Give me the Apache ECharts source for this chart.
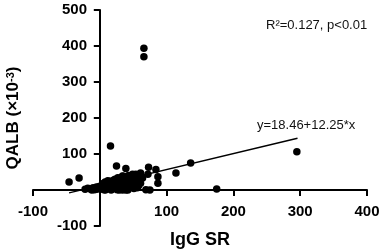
<!DOCTYPE html>
<html>
<head>
<meta charset="utf-8">
<script src="https://cdn.jsdelivr.net/npm/echarts@6/dist/echarts.min.js"></script>
<style>
  html, body { margin: 0; padding: 0; background: #fff; }
  #chart { width: 383px; height: 252px; }
</style>
</head>
<body>
<div id="chart"></div>
<script>
// IgG SR (x) vs QALB x10^-3 (y)
var iggSR = [66, 66, 16, -46, -31, 25, 39, 73, 84, 114, 136, 87, 87, 69, 75, 295, 175, 61, 64, 54, 49, 34, 57, 42, 61, 72,
  -22, -18, -14, -10, -8, -5, -3, -1, 0,
  2, 4, 5, 6, 8, 9, 10, 12, 13, 14, 15, 16, 18, 19, 20, 21, 22, 24, 25, 26, 27, 28, 30, 31, 32, 33,
  35, 36, 37, 38, 40, 41, 43, 44, 45, 46, 48, 50, 51, 52, 54, 55, 58, 3, 7, 11, 17, 23, 29, 34, 39,
  1, 5, 9, 14, 19, 24, 28, 33, 38, 42, 47, 53, 56, -6, -12]
var qalb = [394, 370, 122, 22, 33, 67, 60, 63, 57, 47, 75, 37, 19, 1, 0, 106, 3, 47, 33, 44, 44, 39, 25, 0, 19, 44,
  2, 5, 3, 6, 1, 8, 3, 10, 4,
  12, 2, 18, 7, 22, 1, 14, 26, 5, 20, 10, 24, 2, 24, 15, 28, 6, 28, 19, 1, 34, 10, 25, 33, 3, 16,
  38, 8, 28, 36, 20, 2, 40, 12, 33, 26, 40, 18, 4, 40, 36, 28, 12, 10, 0, 20, 0, 30, 0, 0, 0,
  6, 12, 8, 14, 8, 12, 20, 24, 14, 30, 12, 24, 6, 2, 0]

// regression line end points
var fitX = [-46, 296]
var fitY = [-8, 144]

var fontFam = '"Liberation Sans", Arial, sans-serif'

var points = iggSR.map(function(x, i) { return [x, qalb[i]] })
var fitLine = fitX.map(function(x, i) { return [x, fitY[i]] })

function hideZero(v) {
  return v === 0 ? '' : v
}

var chart = echarts.init(document.getElementById('chart'))
chart.setOption({
  animation: false,
  grid: { left: 33, right: 16, top: 10, bottom: 26, containLabel: false, outerBoundsMode: 'none' },
  xAxis: {
    type: 'value',
    min: -100,
    max: 400,
    interval: 100,
    name: 'IgG SR',
    nameLocation: 'middle',
    nameGap: 5,
    nameTextStyle: { fontSize: 18, fontWeight: 'bold', color: '#000', fontFamily: fontFam },
    axisLine: { onZero: true, lineStyle: { color: '#000', width: 2 } },
    axisTick: { show: true, length: 6, lineStyle: { color: '#000', width: 2 } },
    // labels sit at the grid edge in v6, pull them up to the zero line
    axisLabel: { formatter: hideZero, margin: -22, fontSize: 15, fontWeight: 'bold', color: '#000', fontFamily: fontFam },
    splitLine: { show: false }
  },
  yAxis: {
    type: 'value',
    min: -100,
    max: 500,
    interval: 100,
    name: '{b|QALB (×10}{s|-3}{b|)}',
    nameLocation: 'middle',
    nameGap: 11,
    nameTextStyle: {
      rich: {
        b: { fontSize: 17, fontWeight: 'bold', color: '#000', fontFamily: fontFam },
        s: { fontSize: 11, fontWeight: 'bold', color: '#000', fontFamily: fontFam, verticalAlign: 'top' }
      }
    },
    axisLine: { onZero: true, lineStyle: { color: '#000', width: 2 } },
    axisTick: { show: true, length: 6, lineStyle: { color: '#000', width: 2 } },
    axisLabel: { formatter: hideZero, margin: -54, fontSize: 15, fontWeight: 'bold', color: '#000', fontFamily: fontFam },
    splitLine: { show: false }
  },
  graphic: [
    {
      type: 'text',
      left: 266,
      top: 19,
      style: { text: 'R²=0.127, p<0.01', font: '13px ' + fontFam, fill: '#111' }
    },
    {
      type: 'text',
      left: 257,
      top: 119,
      style: { text: 'y=18.46+12.25*x', font: '13px ' + fontFam, fill: '#111' }
    }
  ],
  series: [
    {
      type: 'scatter',
      data: points,
      symbol: 'circle',
      symbolSize: 7.5,
      itemStyle: { color: '#000', opacity: 1 }
    },
    {
      type: 'line',
      data: fitLine,
      symbol: 'none',
      lineStyle: { color: '#000', width: 1.5 },
      z: 3
    }
  ]
})
</script>
</body>
</html>
